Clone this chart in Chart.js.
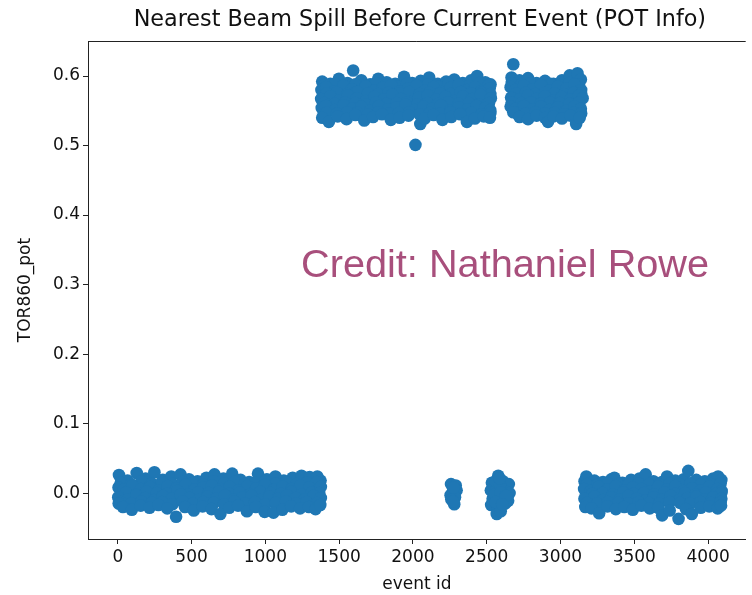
<!DOCTYPE html>
<html>
<head>
<meta charset="utf-8">
<script src="https://cdn.jsdelivr.net/npm/chart.js@4.4.1/dist/chart.umd.min.js"></script>
<style>
  html, body { margin: 0; padding: 0; background: #fff; }
  #wrap { position: relative; width: 752px; height: 595px; }
  #credit {
    position: absolute; left: 301px; top: 243px;
    font: 39.7px/40px 'Liberation Sans', Arial, sans-serif;
    color: #a84f7c; white-space: nowrap;
  }
</style>
</head>
<body>
<div id="wrap">
  <canvas id="chart" width="752" height="595"></canvas>
  <div id="credit">Credit: Nathaniel Rowe</div>
</div>
<script>
// [event id, TOR860_pot], grouped by blob.
const lowRunA = [
  [8, 0.026], [66, 0.018], [128, 0.029], [188, 0.021], [248, 0.030], [305, 0.019], [362, 0.024], [425, 0.027],
  [482, 0.020], [540, 0.017], [600, 0.022], [655, 0.027], [716, 0.021], [775, 0.028], [832, 0.019], [890, 0.016],
  [950, 0.028], [1010, 0.020], [1068, 0.024], [1125, 0.018], [1185, 0.022], [1245, 0.025], [1300, 0.023], [1352, 0.024], [1374, 0.018],
  [20, 0.015], [90, 0.013], [160, 0.017], [230, 0.014], [300, 0.016], [370, 0.013], [440, 0.016], [510, 0.015],
  [580, 0.012], [650, 0.017], [720, 0.014], [790, 0.016], [860, 0.013], [930, 0.015], [1000, 0.017], [1070, 0.014],
  [1140, 0.016], [1210, 0.013], [1280, 0.015], [1350, 0.016],
  [5, 0.008], [40, 0.005], [98, 0.011], [158, 0.006], [218, 0.009], [278, 0.004], [338, 0.010], [398, 0.007],
  [458, 0.012], [518, 0.005], [578, 0.008], [638, 0.011], [698, 0.006], [758, 0.009], [818, 0.004], [878, 0.010],
  [938, 0.007], [998, 0.012], [1058, 0.005], [1118, 0.009], [1178, 0.006], [1238, 0.011], [1298, 0.008], [1350, 0.004], [1376, 0.009],
  [55, 0.001], [125, -0.002], [195, 0.002], [265, 0.000], [335, -0.001], [405, 0.003], [475, -0.002], [545, 0.001],
  [615, 0.000], [685, 0.002], [755, -0.001], [825, 0.001], [895, -0.002], [965, 0.002], [1035, 0.000], [1105, -0.001],
  [1175, 0.002], [1245, -0.002], [1315, 0.001], [1365, 0.000],
  [3, -0.006], [68, -0.009], [126, -0.003], [186, -0.007], [246, -0.010], [306, -0.004], [366, -0.008], [426, -0.002],
  [486, -0.007], [546, -0.010], [606, -0.005], [666, -0.008], [726, -0.003], [786, -0.009], [846, -0.006], [906, -0.004],
  [966, -0.010], [1026, -0.005], [1086, -0.008], [1146, -0.003], [1206, -0.007], [1266, -0.009], [1326, -0.004], [1376, -0.007],
  [20, -0.013], [90, -0.015], [160, -0.012], [230, -0.014], [300, -0.013], [370, -0.016], [440, -0.012], [510, -0.015],
  [580, -0.013], [650, -0.014], [720, -0.016], [790, -0.012], [860, -0.015], [930, -0.013], [1000, -0.016], [1070, -0.014],
  [1140, -0.012], [1210, -0.015], [1280, -0.013], [1350, -0.014],
  [6, -0.015], [35, -0.020], [95, -0.024], [155, -0.018], [215, -0.021], [275, -0.017], [335, -0.022], [395, -0.034],
  [455, -0.020], [515, -0.025], [575, -0.019], [635, -0.023], [695, -0.030], [755, -0.021], [815, -0.018], [875, -0.026],
  [935, -0.020], [995, -0.027], [1055, -0.028], [1115, -0.024], [1175, -0.019], [1235, -0.022], [1295, -0.020], [1340, -0.023], [1372, -0.017]
];

const highRunA = [
  [1385, 0.592], [1440, 0.589], [1498, 0.596], [1556, 0.590], [1595, 0.608], [1650, 0.594], [1710, 0.588], [1765, 0.596],
  [1822, 0.591], [1880, 0.589], [1940, 0.599], [1995, 0.590], [2052, 0.593], [2110, 0.598], [2168, 0.589], [2225, 0.592],
  [2280, 0.595], [2338, 0.590], [2395, 0.594], [2435, 0.600], [2490, 0.591], [2526, 0.588],
  [1400, 0.587], [1470, 0.589], [1540, 0.585], [1610, 0.588], [1680, 0.586], [1750, 0.590], [1820, 0.587], [1890, 0.585],
  [1960, 0.589], [2030, 0.586], [2100, 0.588], [2170, 0.585], [2240, 0.589], [2310, 0.587], [2380, 0.586], [2450, 0.590], [2515, 0.587],
  [1380, 0.580], [1412, 0.584], [1470, 0.578], [1528, 0.586], [1586, 0.581], [1620, 0.577], [1680, 0.585], [1738, 0.579],
  [1795, 0.583], [1852, 0.587], [1910, 0.578], [1968, 0.582], [2025, 0.586], [2082, 0.579], [2140, 0.584], [2198, 0.577],
  [2255, 0.583], [2310, 0.587], [2366, 0.580], [2422, 0.584], [2462, 0.578], [2520, 0.582],
  [1415, 0.575], [1485, 0.576], [1555, 0.574], [1625, 0.577], [1695, 0.575], [1765, 0.574], [1835, 0.576], [1905, 0.575],
  [1975, 0.577], [2045, 0.574], [2115, 0.576], [2185, 0.575], [2255, 0.574], [2325, 0.577], [2395, 0.575], [2465, 0.576], [2525, 0.574],
  [1378, 0.567], [1440, 0.571], [1500, 0.565], [1560, 0.572], [1620, 0.568], [1680, 0.564], [1740, 0.570], [1800, 0.566],
  [1860, 0.573], [1920, 0.567], [1980, 0.563], [2040, 0.569], [2100, 0.572], [2160, 0.566], [2220, 0.570], [2280, 0.564],
  [2340, 0.571], [2400, 0.567], [2460, 0.573], [2528, 0.568],
  [1400, 0.561], [1470, 0.560], [1540, 0.562], [1610, 0.561], [1680, 0.559], [1750, 0.562], [1820, 0.560], [1890, 0.561],
  [1960, 0.562], [2030, 0.559], [2100, 0.561], [2170, 0.560], [2240, 0.562], [2310, 0.560], [2380, 0.561], [2450, 0.559], [2515, 0.561],
  [1382, 0.554], [1410, 0.557], [1470, 0.551], [1530, 0.558], [1590, 0.553], [1650, 0.556], [1710, 0.550], [1770, 0.557],
  [1830, 0.552], [1890, 0.555], [1950, 0.559], [2010, 0.551], [2070, 0.556], [2130, 0.553], [2190, 0.558], [2250, 0.550],
  [2310, 0.555], [2370, 0.552], [2430, 0.557], [2490, 0.554], [2524, 0.551],
  [1415, 0.547], [1485, 0.546], [1555, 0.548], [1625, 0.547], [1695, 0.545], [1765, 0.548], [1835, 0.546], [1905, 0.547],
  [1975, 0.548], [2045, 0.545], [2115, 0.547], [2185, 0.546], [2255, 0.548], [2325, 0.546], [2395, 0.547], [2465, 0.545], [2525, 0.547],
  [1385, 0.540], [1430, 0.534], [1490, 0.542], [1550, 0.538], [1610, 0.544], [1670, 0.536], [1730, 0.541], [1790, 0.545],
  [1850, 0.537], [1910, 0.540], [1970, 0.543], [2050, 0.531], [2080, 0.539], [2140, 0.544], [2200, 0.537], [2260, 0.541],
  [2320, 0.545], [2366, 0.534], [2420, 0.539], [2480, 0.542], [2522, 0.540],
  [2017, 0.501]
];

const lowRunB = [
  [2258, 0.013], [2290, 0.011], [2270, 0.002], [2296, 0.004], [2255, -0.003], [2285, -0.006], [2260, -0.009], [2280, -0.016],
  [2275, 0.008], [2272, -0.012]
];

const lowRunC = [
  [2578, 0.025], [2535, 0.015], [2610, 0.017], [2650, 0.013], [2528, 0.004], [2570, 0.008], [2620, 0.003], [2655, 0.000],
  [2540, -0.008], [2600, -0.005], [2645, -0.011], [2530, -0.017], [2575, -0.020], [2625, -0.015], [2568, -0.030], [2595, -0.026],
  [2560, 0.017], [2590, 0.012], [2555, -0.002], [2595, 0.001], [2630, -0.004], [2560, -0.013], [2605, -0.016], [2588, 0.021]
];

const highRunB = [
  [2668, 0.598], [2680, 0.617], [2722, 0.594], [2780, 0.597], [2838, 0.590], [2895, 0.593], [2952, 0.589], [3010, 0.594],
  [3062, 0.601], [3115, 0.604], [3138, 0.595],
  [2670, 0.590], [2735, 0.588], [2800, 0.590], [2865, 0.587], [2930, 0.589], [2995, 0.587], [3060, 0.590], [3125, 0.588],
  [2662, 0.584], [2695, 0.580], [2752, 0.586], [2810, 0.581], [2868, 0.587], [2925, 0.579], [2982, 0.585], [3040, 0.582],
  [3095, 0.588], [3140, 0.580],
  [2700, 0.575], [2765, 0.576], [2830, 0.574], [2895, 0.576], [2960, 0.575], [3025, 0.574], [3090, 0.576], [3140, 0.575],
  [2665, 0.569], [2722, 0.566], [2780, 0.572], [2838, 0.567], [2895, 0.571], [2952, 0.565], [3010, 0.570], [3068, 0.566],
  [3125, 0.572], [3150, 0.568],
  [2670, 0.562], [2735, 0.561], [2800, 0.562], [2865, 0.560], [2930, 0.562], [2995, 0.561], [3060, 0.560], [3125, 0.562],
  [2662, 0.556], [2695, 0.553], [2752, 0.557], [2810, 0.552], [2868, 0.556], [2925, 0.551], [2982, 0.555], [3040, 0.550],
  [3095, 0.556], [3138, 0.553],
  [2700, 0.547], [2765, 0.546], [2830, 0.548], [2895, 0.546], [2960, 0.547], [3025, 0.545], [3090, 0.547], [3140, 0.546],
  [2680, 0.548], [2722, 0.541], [2780, 0.538], [2838, 0.543], [2895, 0.540], [2915, 0.534], [2952, 0.542], [3010, 0.539],
  [3068, 0.543], [3106, 0.531], [3130, 0.540]
];

const lowRunD = [
  [3163, 0.017], [3175, 0.024], [3230, 0.018], [3288, 0.016], [3345, 0.020], [3365, 0.022], [3420, 0.015], [3478, 0.019],
  [3535, 0.021], [3577, 0.027], [3630, 0.017], [3688, 0.016], [3722, 0.024], [3778, 0.018], [3835, 0.020], [3866, 0.032],
  [3920, 0.019], [3978, 0.017], [4035, 0.021], [4068, 0.024], [4090, 0.019],
  [3180, 0.013], [3250, 0.012], [3320, 0.014], [3390, 0.013], [3460, 0.012], [3530, 0.014], [3600, 0.013], [3670, 0.012],
  [3740, 0.014], [3810, 0.013], [3880, 0.014], [3950, 0.012], [4020, 0.013], [4085, 0.014],
  [3160, 0.006], [3205, 0.003], [3260, 0.009], [3318, 0.005], [3375, 0.010], [3432, 0.004], [3490, 0.008], [3548, 0.006],
  [3605, 0.002], [3662, 0.009], [3720, 0.005], [3778, 0.010], [3835, 0.003], [3892, 0.007], [3950, 0.004], [4008, 0.009],
  [4065, 0.006], [4092, 0.003],
  [3215, -0.001], [3285, 0.000], [3355, -0.002], [3425, 0.001], [3495, -0.001], [3565, 0.000], [3635, -0.002], [3705, 0.001],
  [3775, -0.001], [3845, 0.000], [3915, -0.002], [3985, 0.001], [4055, -0.001], [4090, 0.000],
  [3162, -0.008], [3230, -0.005], [3288, -0.010], [3345, -0.006], [3402, -0.009], [3460, -0.004], [3518, -0.008], [3575, -0.011],
  [3632, -0.006], [3690, -0.009], [3748, -0.004], [3805, -0.010], [3862, -0.007], [3920, -0.005], [3978, -0.009], [4035, -0.006],
  [4090, -0.008],
  [3180, -0.014], [3250, -0.015], [3320, -0.013], [3390, -0.014], [3460, -0.015], [3530, -0.013], [3600, -0.014], [3670, -0.015],
  [3740, -0.013], [3810, -0.014], [3880, -0.015], [3950, -0.013], [4020, -0.014], [4085, -0.013],
  [3168, -0.020], [3210, -0.022], [3262, -0.029], [3318, -0.019], [3375, -0.023], [3432, -0.020], [3490, -0.024], [3548, -0.018],
  [3605, -0.022], [3662, -0.021], [3689, -0.032], [3740, -0.025], [3800, -0.037], [3850, -0.023], [3890, -0.030], [3950, -0.021],
  [4008, -0.019], [4065, -0.022], [4088, -0.018]
];

const xTicks = [0, 500, 1000, 1500, 2000, 2500, 3000, 3500, 4000];
const yTicks = [0.0, 0.1, 0.2, 0.3, 0.4, 0.5, 0.6];

const titleText = 'Nearest Beam Spill Before Current Event (POT Info)';
const fontFamily = "'DejaVu Sans', sans-serif";

const points = [...lowRunA, ...highRunA, ...lowRunB, ...lowRunC, ...highRunB, ...lowRunD]
  .map(([x, y]) => ({ x, y }));

// matplotlib-style frame top line and a title centred over the plot area
const framePlugin = {
  id: 'frame',
  afterDraw(chart) {
    const { ctx, chartArea: a } = chart;
    ctx.save();
    ctx.strokeStyle = '#222';
    ctx.lineWidth = 1;
    ctx.beginPath();
    ctx.moveTo(a.left, a.top + 0.5);
    ctx.lineTo(a.right, a.top + 0.5);
    ctx.stroke();
    ctx.fillStyle = '#111';
    ctx.font = `22.3px ${fontFamily}`;
    ctx.textAlign = 'center';
    ctx.textBaseline = 'middle';
    ctx.fillText(titleText, (a.left + a.right) / 2 + 3, 20);
    ctx.restore();
  }
};

const tickFont = { family: fontFamily, size: 17 };

new Chart(document.getElementById('chart'), {
  type: 'scatter',
  data: {
    datasets: [{
      data: points,
      backgroundColor: '#1f77b4',
      borderWidth: 0,
      pointRadius: 6.3,
      pointHoverRadius: 6.3
    }]
  },
  options: {
    responsive: false,
    animation: false,
    events: [],
    layout: { padding: { top: 41, right: 1, bottom: 0, left: 0 } },
    plugins: {
      legend: { display: false },
      tooltip: { enabled: false },
      title: { display: false }
    },
    scales: {
      x: {
        type: 'linear',
        min: -202,
        max: 4255,
        afterBuildTicks: (s) => { s.ticks = xTicks.map((v) => ({ value: v })); },
        afterFit: (s) => { s.height = 56; },
        ticks: { color: '#111', font: tickFont, padding: 3, maxRotation: 0, callback: (v) => String(v) },
        grid: { drawOnChartArea: false, drawTicks: true, tickLength: 5, tickColor: '#222' },
        border: { color: '#222', width: 1 },
        title: { display: true, text: 'event id', color: '#111', font: tickFont, padding: { top: 0, bottom: 0 } }
      },
      y: {
        type: 'linear',
        min: -0.066,
        max: 0.6504,
        afterBuildTicks: (s) => { s.ticks = yTicks.map((v) => ({ value: v })); },
        afterFit: (s) => { s.width = 88; },
        ticks: { color: '#111', font: tickFont, padding: 3, callback: (v) => v.toFixed(1) },
        grid: { drawOnChartArea: false, drawTicks: true, tickLength: 5, tickColor: '#222' },
        border: { color: '#222', width: 1 },
        title: { display: true, text: 'TOR860_pot', color: '#111', font: tickFont, padding: { top: 15, bottom: 0 } }
      }
    }
  },
  plugins: [framePlugin]
});
</script>
</body>
</html>
